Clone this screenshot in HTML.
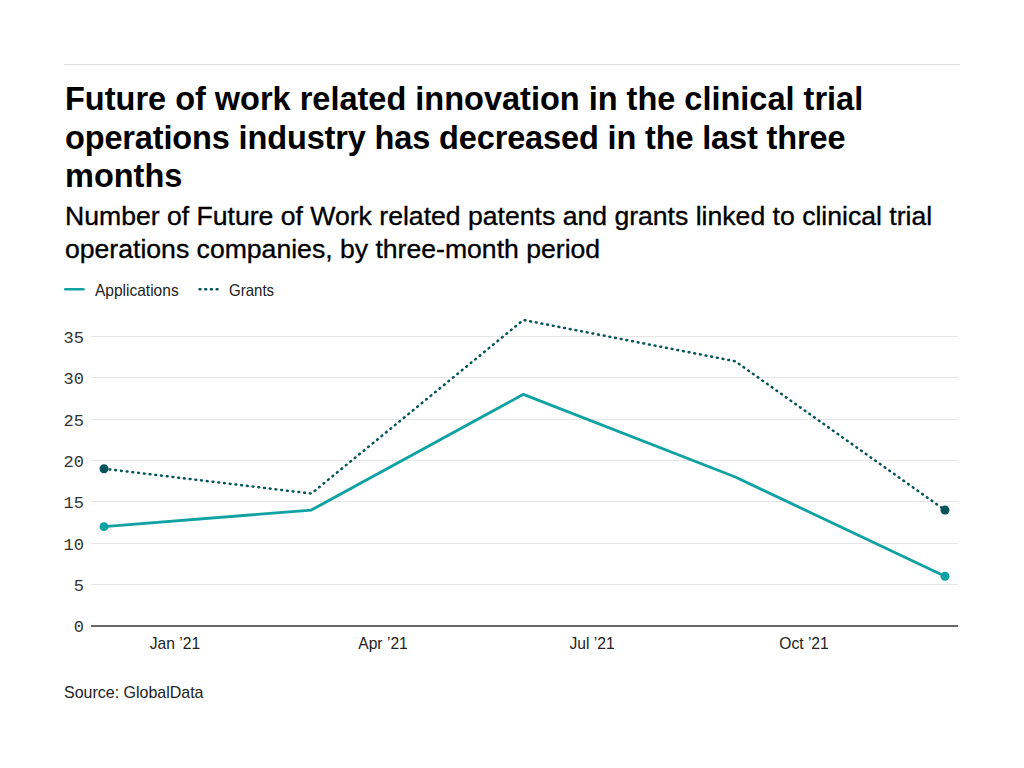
<!DOCTYPE html>
<html><head><meta charset="utf-8"><style>
html,body{margin:0;padding:0;background:#fff;width:1024px;height:768px;overflow:hidden;}
body{position:relative;font-family:"Liberation Sans",sans-serif;}
.rule{position:absolute;left:64px;top:64px;width:896px;height:1px;background:#dcdcdc;}
.title{position:absolute;left:65px;top:80px;width:950px;font-weight:bold;font-size:32.5px;line-height:38.7px;color:#000;}
.sub{position:absolute;left:65px;top:200px;width:950px;font-size:26.6px;line-height:33px;color:#000;-webkit-text-stroke:0.35px #000;}
.leg{position:absolute;top:281px;font-size:16.5px;line-height:18px;color:#222;transform-origin:0 50%;}
.yl{position:absolute;left:40px;width:44px;text-align:right;font-family:"Liberation Mono",monospace;font-size:17px;line-height:18px;color:#333;}
.xl{position:absolute;top:635px;width:100px;text-align:center;font-size:17px;line-height:18px;color:#222;transform:scaleX(0.92);}
.src{position:absolute;left:64px;top:684px;font-size:17px;line-height:18px;color:#222;transform-origin:0 50%;transform:scaleX(0.94);}
svg{position:absolute;left:0;top:0;}
</style></head><body>
<div class="rule"></div>
<div class="title">Future of work related innovation in the clinical trial<br><span style="letter-spacing:-0.14px">operations industry has decreased in the last three</span><br>months</div>
<div class="sub">Number of Future of Work related patents and grants linked to clinical trial<br>operations companies, by three-month period</div>
<svg width="1024" height="768" viewBox="0 0 1024 768">
<line x1="65.3" y1="289.3" x2="83.4" y2="289.3" stroke="#10a2a3" stroke-width="2.6" stroke-linecap="round"/>
<line x1="199.6" y1="289.2" x2="217.6" y2="289.2" stroke="#04545a" stroke-width="2.6" stroke-linecap="round" stroke-dasharray="0.8 4.9"/>
<rect x="91" y="336" width="867" height="1" fill="#e6e6e6"/><rect x="91" y="377" width="867" height="1" fill="#e6e6e6"/><rect x="91" y="419" width="867" height="1" fill="#e6e6e6"/><rect x="91" y="460" width="867" height="1" fill="#e6e6e6"/><rect x="91" y="501" width="867" height="1" fill="#e6e6e6"/><rect x="91" y="543" width="867" height="1" fill="#e6e6e6"/><rect x="91" y="584" width="867" height="1" fill="#e6e6e6"/>
<rect x="91" y="625" width="867" height="2" fill="#666"/>
<polyline points="104.00,526.63 311.37,510.09 523.35,394.35 735.33,477.02 945.00,576.23" fill="none" stroke="#10a2a3" stroke-width="2.8" stroke-linejoin="round"/>
<polyline points="104.00,468.76 311.37,493.56 523.35,319.95 735.33,361.29 945.00,510.09" fill="none" stroke="#04545a" stroke-width="2.5" stroke-linecap="round" stroke-dasharray="0.8 4.965" stroke-dashoffset="0.2"/>
<circle cx="104.00" cy="526.63" r="4.5" fill="#10a2a3"/>
<circle cx="945.00" cy="576.23" r="4.5" fill="#10a2a3"/>
<circle cx="104.00" cy="468.76" r="4.5" fill="#04545a"/>
<circle cx="945.00" cy="510.09" r="4.5" fill="#04545a"/>
</svg>
<div class="leg" style="left:95px;transform:scaleX(0.94)">Applications</div>
<div class="leg" style="left:229px;transform:scaleX(0.91)">Grants</div>
<div class="yl" style="top:329.5px">35</div><div class="yl" style="top:370.5px">30</div><div class="yl" style="top:412.5px">25</div><div class="yl" style="top:453.5px">20</div><div class="yl" style="top:494.5px">15</div><div class="yl" style="top:536.5px">10</div><div class="yl" style="top:577.5px">5</div><div class="yl" style="top:618.5px">0</div>
<div class="xl" style="left:125.43px">Jan ’21</div><div class="xl" style="left:332.80px">Apr ’21</div><div class="xl" style="left:542.47px">Jul ’21</div><div class="xl" style="left:754.45px">Oct ’21</div>
<div class="src">Source: GlobalData</div>
</body></html>
